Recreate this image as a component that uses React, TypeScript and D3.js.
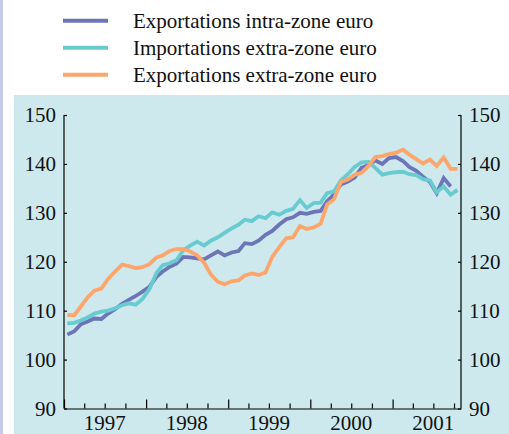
import { useEffect, useRef } from 'react';
import * as d3 from 'd3';

// monthly indices, Jan 1997 onwards
const startMonth = new Date(1997, 0, 1);
const years = [1997, 1998, 1999, 2000, 2001];
const yTicks = [90, 100, 110, 120, 130, 140, 150];

const exportsIntra = [
  105.1, 105.8, 107.2, 107.8, 108.4, 108.3, 109.4, 110.3, 111.4, 112.2, 113.0, 113.9,
  114.9, 116.9, 118.0, 119.0, 119.6, 121.0, 120.9, 120.7, 120.5, 121.3, 122.1, 121.3,
  121.9, 122.2, 123.8, 123.6, 124.3, 125.5, 126.3, 127.6, 128.7, 129.1, 130.0, 129.8,
  130.2, 130.4, 132.4, 133.8, 135.8, 136.4, 137.2, 139.2, 139.8, 140.7, 140.0, 141.2,
  141.4, 140.6, 139.4, 138.6, 137.4, 136.3, 134.0, 137.1, 135.4,
];

const importsExtra = [
  107.4, 107.5, 108.0, 108.6, 109.4, 109.8, 110.0, 110.5, 111.1, 111.5, 111.2, 112.4,
  114.4, 117.7, 119.3, 119.7, 120.3, 122.4, 123.3, 124.1, 123.3, 124.3, 125.0, 125.9,
  126.8, 127.6, 128.6, 128.3, 129.3, 128.9, 130.1, 129.6, 130.4, 130.8, 132.6, 131.0,
  132.0, 132.1, 134.0, 134.4, 136.6, 137.9, 139.4, 140.3, 140.4, 139.2, 137.8, 138.1,
  138.3, 138.4, 137.9, 137.7, 136.9, 136.6, 134.2, 135.4, 133.7, 134.7,
];

const exportsExtra = [
  109.1, 109.1, 110.8, 112.7, 114.1, 114.5, 116.5, 118.0, 119.4, 119.1, 118.7, 118.9,
  119.5, 120.9, 121.3, 122.2, 122.6, 122.6, 122.1, 121.3, 119.8, 117.4, 115.9, 115.4,
  116.0, 116.2, 117.2, 117.6, 117.3, 117.8, 121.0, 123.0, 124.8, 125.0, 127.3, 126.7,
  127.0, 127.8, 131.7, 132.8, 136.3, 136.8, 137.8, 138.2, 139.6, 141.4, 141.6, 142.0,
  142.3, 142.9, 141.9, 141.0, 140.1, 140.9, 139.6, 141.3, 139.0, 139.0,
];

const series = [
  { name: 'Exportations intra-zone euro', values: exportsIntra, color: '#6d75b9' },
  { name: 'Importations extra-zone euro', values: importsExtra, color: '#68cbd0' },
  { name: 'Exportations extra-zone euro', values: exportsExtra, color: '#fda66c' },
];

const W = 509;
const H = 434;

export default function App() {
  const svgRef = useRef<SVGSVGElement>(null);

  useEffect(() => {
    if (!svgRef.current) return;
    const svg = d3.select(svgRef.current);
    svg.selectAll('*').remove();

    const font = '"Liberation Serif", "Times New Roman", serif';
    const left = 64, right = 461, top = 115, bottom = 408.5;

    // background
    svg.append('rect').attr('width', W).attr('height', H).attr('fill', '#fff');
    svg.append('rect').attr('x', 0).attr('y', 0).attr('width', 3).attr('height', H).attr('fill', '#c7cbea');
    svg.append('rect').attr('x', 14).attr('y', 95).attr('width', W - 14).attr('height', H - 95).attr('fill', '#cde9ed');

    const x = d3.scaleTime()
      .domain([startMonth, new Date(2001, 10, 1)])
      .range([left, right]);
    const y = d3.scaleLinear().domain([90, 150]).range([bottom, top]);

    const dateOf = (i: number) => {
      const d = d3.timeMonth.offset(startMonth, i);
      return new Date(d.getFullYear(), d.getMonth(), 16);
    };

    // axes
    const leftAxis = svg.append('g')
      .attr('transform', `translate(${left},0)`)
      .call(d3.axisRight(y).tickValues(yTicks).tickSize(3).tickFormat(() => ''));
    const rightAxis = svg.append('g')
      .attr('transform', `translate(${right},0)`)
      .call(d3.axisLeft(y).tickValues(yTicks).tickSize(3).tickFormat(() => ''));
    const xAxis = svg.append('g')
      .attr('transform', `translate(0,${bottom})`)
      .call(d3.axisBottom(x).ticks(d3.timeMonth.every(3)).tickSize(-5).tickSizeOuter(0).tickFormat(() => ''));
    xAxis.selectAll<SVGLineElement, Date>('.tick line')
      .attr('y2', d => (d.getMonth() === 0 ? -9 : -5));
    for (const a of [leftAxis, rightAxis, xAxis]) {
      a.select('.domain').attr('stroke', '#000').attr('stroke-width', 1.2);
      a.selectAll('.tick line').attr('stroke', '#000').attr('stroke-width', 1.2);
    }
    leftAxis.select('.domain').attr('d', `M0,${top}V${bottom}`);
    rightAxis.select('.domain').attr('d', `M0,${top}V${bottom}`);

    // tick labels
    svg.append('g').selectAll('text').data(yTicks).join('text')
      .attr('x', 56).attr('y', d => y(d)).attr('dy', '0.34em')
      .attr('text-anchor', 'end').attr('font-family', font).attr('font-size', 21)
      .attr('fill', '#111').text(d => d);
    svg.append('g').selectAll('text').data(yTicks).join('text')
      .attr('x', 469).attr('y', d => y(d)).attr('dy', '0.34em')
      .attr('text-anchor', 'start').attr('font-family', font).attr('font-size', 21)
      .attr('fill', '#111').text(d => d);
    svg.append('g').selectAll('text').data(years).join('text')
      .attr('x', d => x(new Date(d, 6, 1))).attr('y', 430)
      .attr('text-anchor', 'middle').attr('font-family', font).attr('font-size', 21)
      .attr('fill', '#111').text(d => d);

    // lines
    const line = d3.line<number>()
      .x((_, i) => x(dateOf(i)))
      .y(d => y(d));
    series.forEach(s => {
      svg.append('path')
        .datum(s.values)
        .attr('fill', 'none')
        .attr('stroke', s.color)
        .attr('stroke-width', 3.8)
        .attr('stroke-linejoin', 'miter')
        .attr('d', line);
    });

    // legend
    const legend = svg.append('g');
    series.forEach((s, i) => {
      const ly = 20.7 + i * 27;
      legend.append('line')
        .attr('x1', 63).attr('x2', 108).attr('y1', ly).attr('y2', ly)
        .attr('stroke', s.color).attr('stroke-width', 4);
      legend.append('text')
        .attr('x', 133).attr('y', ly + 7.5)
        .attr('font-family', font).attr('font-size', 21).attr('fill', '#111')
        .text(s.name);
    });
  }, []);

  return (
    <svg
      ref={svgRef}
      width={W}
      height={H}
      style={{ position: 'absolute', left: 0, top: 0, display: 'block' }}
    />
  );
}
